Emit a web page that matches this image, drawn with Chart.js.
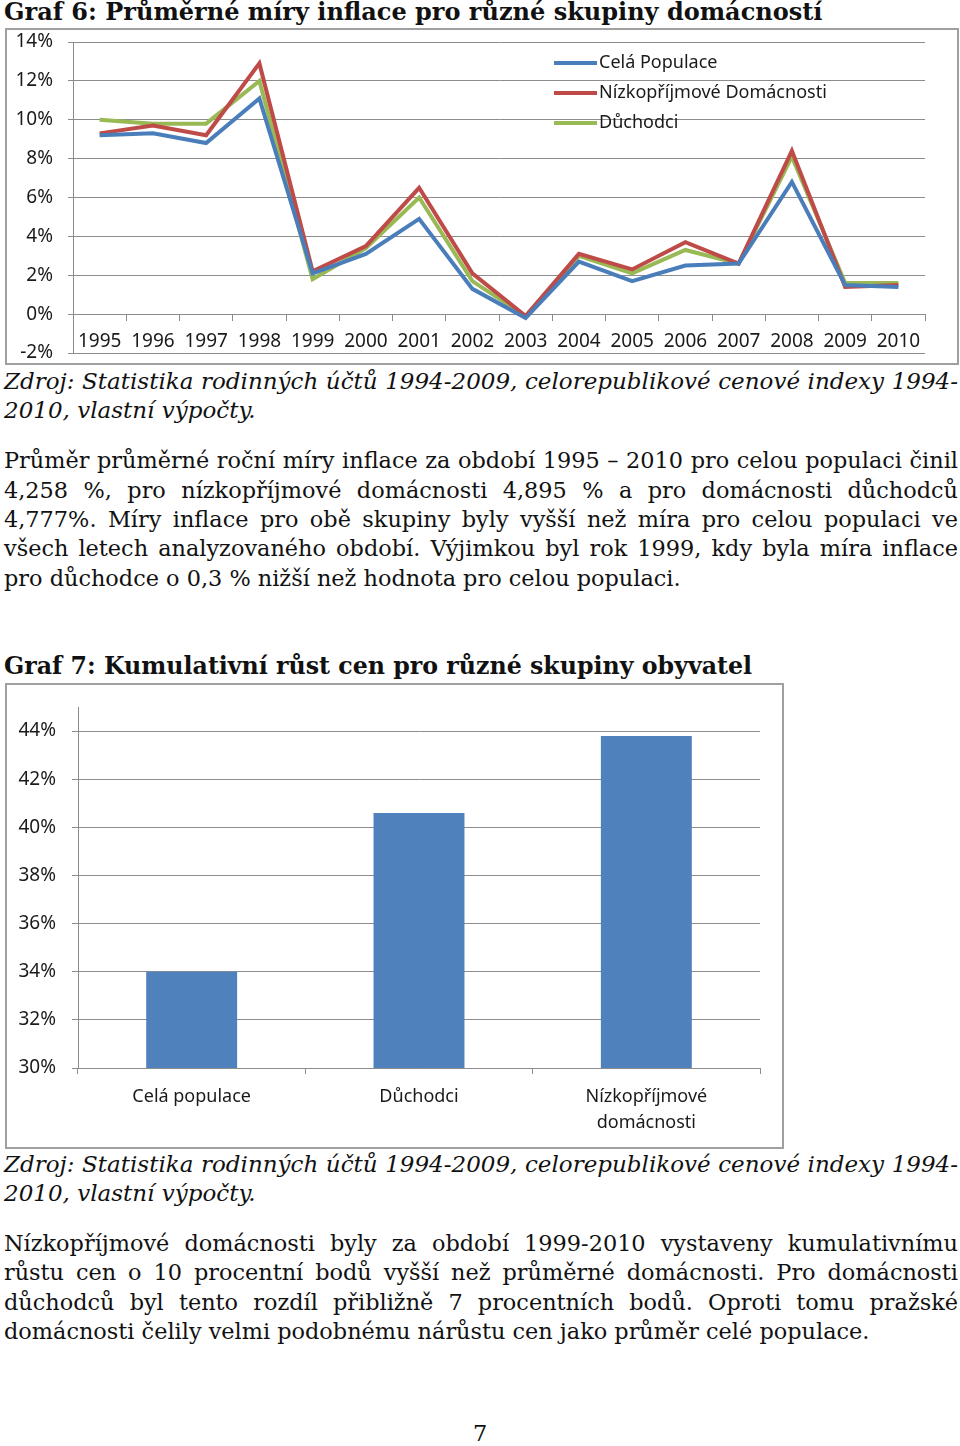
<!DOCTYPE html>
<html lang="cs">
<head>
    <meta charset="UTF-8">
    <title>Graf 6 a Graf 7</title>
    <script src="https://cdn.jsdelivr.net/npm/chart.js"></script>
    <style>
        body { margin: 0; background: #fff; width: 960px; height: 1446px; position: relative; overflow: hidden; }
        .t { position: absolute; left: 4px; width: 954px; font-family: 'DejaVu Serif', serif; font-size: 22.4px; line-height: 30px; height: 30px; color: #111; }
        .j { text-align: justify; text-align-last: justify; }
        .i { font-style: italic; font-size: 23px; }
        .h { font-weight: bold; font-size: 24px; }
        .box { position: absolute; border: 2px solid #a0a0a0; box-sizing: border-box; }
        .box div { position: absolute; left: 0; top: 0; right: 0; bottom: 0; }
    </style>
</head>
<body>
    <div class="t h" style="top:-3px">Graf 6: Průměrné míry inflace pro různé skupiny domácností</div>
    <div class="box" style="left:5px; top:28px; width:954px; height:337px;">
        <div><canvas id="inflationChart"></canvas></div>
    </div>
    <div class="t i j" style="top:366px">Zdroj: Statistika rodinných účtů 1994-2009, celorepublikové cenové indexy 1994-</div>
    <div class="t i" style="top:395px">2010, vlastní výpočty.</div>

    <div class="t j" style="top:445px">Průměr průměrné roční míry inflace za období 1995 – 2010 pro celou populaci činil</div>
    <div class="t j" style="top:475px">4,258 %, pro nízkopříjmové domácnosti 4,895 % a pro domácnosti důchodců</div>
    <div class="t j" style="top:504px">4,777%. Míry inflace pro obě skupiny byly vyšší než míra pro celou populaci ve</div>
    <div class="t j" style="top:533px">všech letech analyzovaného období. Výjimkou byl rok 1999, kdy byla míra inflace</div>
    <div class="t" style="top:563px">pro důchodce o 0,3 % nižší než hodnota pro celou populaci.</div>

    <div class="t h" style="top:651px; font-size:23.7px">Graf 7: Kumulativní růst cen pro různé skupiny obyvatel</div>
    <div class="box" style="left:5px; top:683px; width:779px; height:466px;">
        <div><canvas id="cumulativeChart"></canvas></div>
    </div>
    <div class="t i j" style="top:1149px">Zdroj: Statistika rodinných účtů 1994-2009, celorepublikové cenové indexy 1994-</div>
    <div class="t i" style="top:1178px">2010, vlastní výpočty.</div>

    <div class="t j" style="top:1228px">Nízkopříjmové domácnosti byly za období 1999-2010 vystaveny kumulativnímu</div>
    <div class="t j" style="top:1257px">růstu cen o 10 procentní bodů vyšší než průměrné domácnosti. Pro domácnosti</div>
    <div class="t j" style="top:1287px">důchodců byl tento rozdíl přibližně 7 procentních bodů. Oproti tomu pražské</div>
    <div class="t" style="top:1316px">domácnosti čelily velmi podobnému nárůstu cen jako průměr celé populace.</div>

    <div class="t" style="top:1418px; text-align:center; left:0; width:960px;">7</div>

    <script>
        // Graf 6 - annual inflation (%)
        const years = ['1995', '1996', '1997', '1998', '1999', '2000', '2001', '2002',
                       '2003', '2004', '2005', '2006', '2007', '2008', '2009', '2010'];
        const celaPopulace = [9.2, 9.3, 8.8, 11.1, 2.1, 3.1, 4.9, 1.3, -0.2, 2.7, 1.7, 2.5, 2.6, 6.8, 1.5, 1.4];
        const nizkoprijmove = [9.3, 9.7, 9.2, 12.9, 2.2, 3.5, 6.5, 2.1, -0.1, 3.1, 2.3, 3.7, 2.6, 8.4, 1.4, 1.5];
        const duchodci = [10.0, 9.8, 9.8, 12.0, 1.8, 3.4, 6.0, 1.7, -0.1, 3.0, 2.1, 3.3, 2.6, 8.1, 1.6, 1.6];
        const inflationTicks = [-2, 0, 2, 4, 6, 8, 10, 12, 14];

        // Graf 7 - cumulative price growth (%)
        const groups = ['Celá populace', 'Důchodci', ['Nízkopříjmové', 'domácnosti']];
        const cumulativeGrowth = [34.0, 40.6, 43.8];
        const growthTicks = [30, 32, 34, 36, 38, 40, 42, 44];

        const sans = "'Noto Sans', sans-serif";
        const gridColor = '#8c8c8c';
        const labelColor = '#1a1a1a';

        // y axis: fixed width, no extra vertical padding from tick labels
        function fixY(width) {
            return s => { s.width = width; s.paddingTop = 0; s.paddingBottom = 0; };
        }

        const insideLegend = {
            id: 'insideLegend',
            afterDatasetsDraw(chart) {
                const ctx = chart.ctx;
                const a = chart.chartArea;
                ctx.save();
                ctx.font = "18px " + sans;
                ctx.textBaseline = 'middle';
                chart.data.datasets.forEach((ds, i) => {
                    const y = a.top + 21 + i * 30;
                    ctx.strokeStyle = ds.borderColor;
                    ctx.lineWidth = 4;
                    ctx.beginPath();
                    ctx.moveTo(a.left + 481, y);
                    ctx.lineTo(a.left + 524, y);
                    ctx.stroke();
                    ctx.fillStyle = labelColor;
                    ctx.fillText(ds.label, a.left + 526, y);
                });
                ctx.restore();
            }
        };

        new Chart(document.getElementById('inflationChart'), {
            type: 'line',
            data: {
                labels: years,
                datasets: [
                    { label: 'Celá Populace', data: celaPopulace, borderColor: '#4a7ebb' },
                    { label: 'Nízkopříjmové Domácnosti', data: nizkoprijmove, borderColor: '#be4b48' },
                    { label: 'Důchodci', data: duchodci, borderColor: '#98b954' }
                ]
            },
            options: {
                responsive: true,
                maintainAspectRatio: false,
                animation: false,
                elements: { line: { borderWidth: 4, tension: 0 }, point: { radius: 0 } },
                layout: { padding: { top: 12, right: 32, bottom: 10, left: 0 } },
                plugins: { legend: { display: false }, tooltip: { enabled: false } },
                scales: {
                    x: {
                        position: { y: 0 },
                        offset: true,
                        grid: { drawOnChartArea: false, offset: true, tickLength: 6, color: gridColor },
                        border: { color: gridColor },
                        ticks: { font: { family: sans, size: 19 }, color: labelColor, padding: 10, maxRotation: 0, autoSkip: false }
                    },
                    y: {
                        min: -2,
                        max: 14,
                        afterBuildTicks: s => { s.ticks = inflationTicks.map(v => ({ value: v })); },
                        afterFit: fixY(66),
                        grid: { color: gridColor, tickLength: 5 },
                        border: { color: gridColor },
                        ticks: { font: { family: sans, size: 19 }, color: labelColor, padding: 15, callback: v => v + '%' }
                    }
                }
            },
            plugins: [insideLegend]
        });

        new Chart(document.getElementById('cumulativeChart'), {
            type: 'bar',
            data: {
                labels: groups,
                datasets: [{ label: 'Kumulativní růst cen', data: cumulativeGrowth, backgroundColor: '#4f81bd', barPercentage: 0.8, categoryPercentage: 0.5 }]
            },
            options: {
                responsive: true,
                maintainAspectRatio: false,
                animation: false,
                layout: { padding: { top: 22, right: 22, bottom: 0, left: 0 } },
                plugins: { legend: { display: false }, tooltip: { enabled: false } },
                scales: {
                    x: {
                        grid: { drawOnChartArea: false, offset: true, tickLength: 6, color: gridColor },
                        border: { color: gridColor },
                        afterFit: s => { s.height = 79; },
                        ticks: { font: { family: sans, size: 18, lineHeight: 1.45 }, color: labelColor, padding: 10, maxRotation: 0 }
                    },
                    y: {
                        min: 30,
                        max: 45,
                        afterBuildTicks: s => { s.ticks = growthTicks.map(v => ({ value: v })); },
                        afterFit: fixY(71),
                        grid: { color: gridColor, tickLength: 6 },
                        border: { color: gridColor },
                        ticks: { font: { family: sans, size: 19 }, color: labelColor, padding: 16, callback: v => v + '%' }
                    }
                }
            }
        });
    </script>
</body>
</html>
